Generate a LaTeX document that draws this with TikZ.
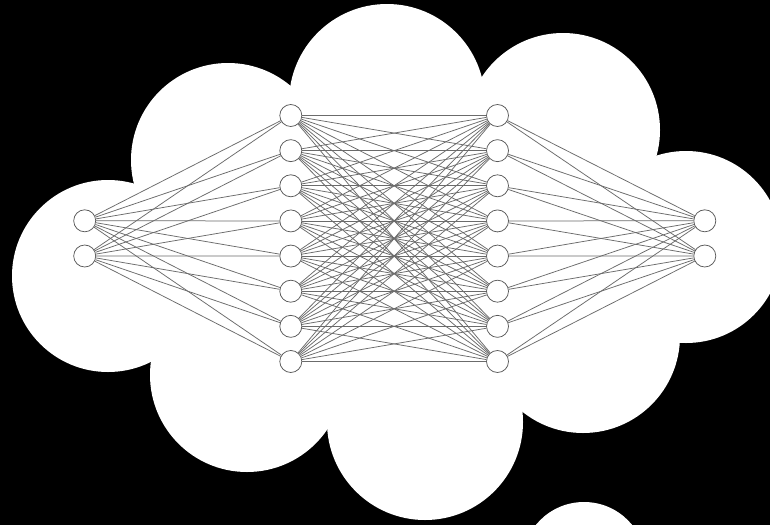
\documentclass[tikz,border=0pt]{standalone}
\begin{document}
\begin{tikzpicture}[x=1pt,y=-1pt,
  neuron/.style={circle,draw=black!65,fill=white,line width=0.75pt,minimum size=22pt,inner sep=0pt},
  link/.style={draw=black!58,line width=0.75pt},
  puff/.style={fill=white}]
\useasboundingbox (0,0) rectangle (770,525);
\fill[black] (0,0) rectangle (770,525);
% cloud
\fill[white] (108,276) -- (228,160) -- (387,102) -- (563,130) -- (686,247) -- (583,336) -- (425,422) -- (247,375) -- cycle;
\foreach \cx/\cy/\r in {108/276/96, 228/160/97, 387/102/98, 563/130/97, 686/247/96, 583/336/97, 425/422/98, 247/375/97, 584/564/62}
  \fill[puff] (\cx,\cy) circle[radius=\r];
% neurons
\foreach \i/\y in {1/220.8,2/256}
  \node[neuron] (I\i) at (84.7,\y) {};
\foreach \i in {1,...,8}
  \node[neuron] (A\i) at (290.8,{115.5+35.14*(\i-1)}) {};
\foreach \i in {1,...,8}
  \node[neuron] (B\i) at (497.5,{115.5+35.14*(\i-1)}) {};
\foreach \i/\y in {1/220.8,2/256}
  \node[neuron] (O\i) at (704.8,\y) {};
% links
\foreach \i in {1,2}
  \foreach \j in {1,...,8}
    \draw[link] (I\i) -- (A\j);
\foreach \i in {1,...,8}
  \foreach \j in {1,...,8}
    \draw[link] (A\i) -- (B\j);
\foreach \i in {1,...,8}
  \foreach \j in {1,2}
    \draw[link] (B\i) -- (O\j);
\end{tikzpicture}
\end{document}
